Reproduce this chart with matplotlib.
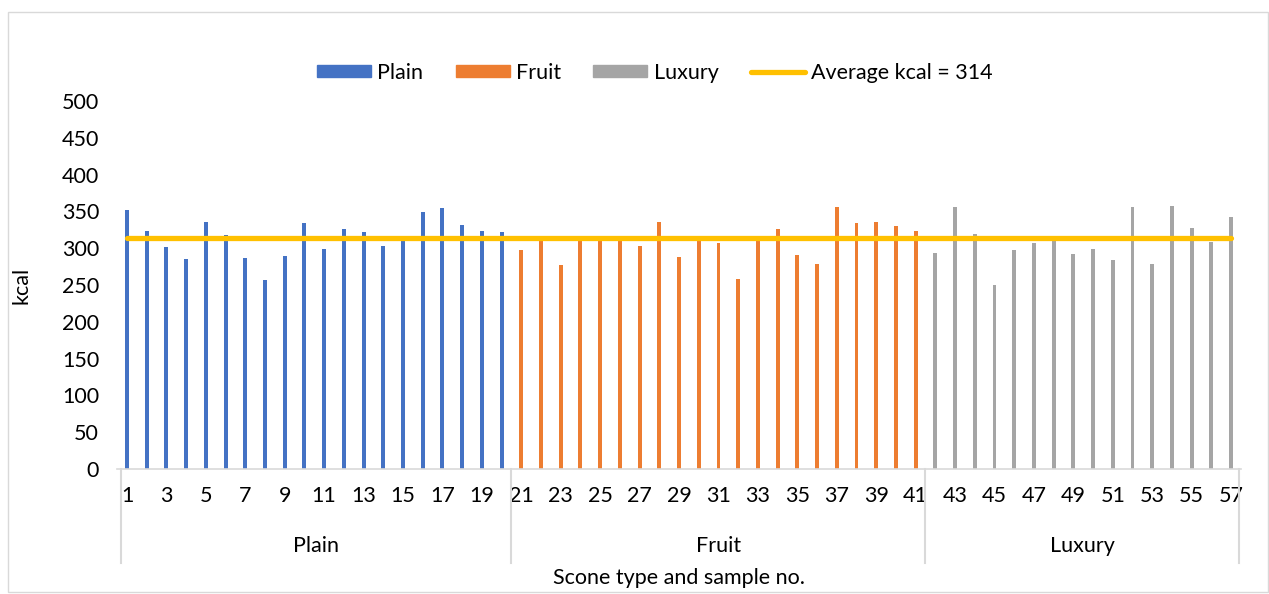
import matplotlib.pyplot as plt
from matplotlib.patches import Patch, Rectangle
from matplotlib.lines import Line2D
import matplotlib.transforms as mtransforms

plt.rcParams['font.family'] = ['Lato', 'DejaVu Sans']

groups = ["Plain", "Fruit", "Luxury"]
colors = ["#4472C4", "#ED7D31", "#A5A5A5"]

plain = [352, 323, 301, 285, 335, 318, 287, 257, 289, 334,
         299, 326, 322, 303, 310, 349, 355, 332, 324, 322]
fruit = [298, 312, 277, 312, 313, 314, 303, 335, 288, 312, 307,
         258, 312, 326, 291, 278, 356, 334, 336, 330, 323]
luxury = [293, 356, 319, 250, 298, 307, 310, 292, 299, 284, 356,
          278, 358, 327, 308, 342]
average = 314

series = [plain, fruit, luxury]
sample_no = list(range(1, len(plain) + len(fruit) + len(luxury) + 1))

fs = 15.5
fig = plt.figure(figsize=(12.69, 5.94), dpi=100)
ax = fig.add_axes([0.0923, 0.2104, 0.8856, 0.6196])

start = 0
for vals, name, c in zip(series, groups, colors):
    xs = list(range(start, start + len(vals)))
    ax.bar(xs, vals, width=0.2, color=c, zorder=2)
    start += len(vals)

ax.plot(range(len(sample_no)), [average] * len(sample_no), color="#FFC000",
        lw=3.8, solid_capstyle="round", zorder=3)

ax.set_xlim(-0.5, len(sample_no) - 0.5)
ax.set_ylim(0, 500)
ax.set_yticks(range(0, 501, 50))
ax.tick_params(axis="y", length=0, pad=13, labelsize=fs)
ax.set_xticks(range(0, len(sample_no), 2))
ax.set_xticklabels([str(n) for n in sample_no[::2]])
ax.tick_params(axis="x", length=0, pad=12, labelsize=fs)
for s in ["top", "right", "left"]:
    ax.spines[s].set_visible(False)
ax.spines["bottom"].set_color("#D9D9D9")
ax.spines["bottom"].set_linewidth(1.2)

# group separators and labels
trans = mtransforms.blended_transform_factory(ax.transData, ax.transAxes)
edges = [-0.5]
for vals in series:
    edges.append(edges[-1] + len(vals))
edges[0] += 0.2
edges[-1] -= 0.1
for e in edges:
    ax.plot([e, e], [0, -0.255], transform=trans, color="#D9D9D9", lw=1.5,
            clip_on=False)
for i, g in enumerate(groups):
    ax.text((edges[i] + edges[i + 1]) / 2, -0.21, g, transform=trans,
            ha="center", va="center", fontsize=fs)

ax.set_ylabel("kcal", fontsize=fs, labelpad=22)
fig.text(0.5 * (0.0923 + 0.978), 1 - 578 / 594, "Scone type and sample no.",
         ha="center", va="center", fontsize=fs)

handles = [Patch(color=c) for c in colors]
handles.append(Line2D([], [], color="#FFC000", lw=3.8, solid_capstyle="round"))
labels = groups + [f"Average kcal = {average}"]
fig.legend(handles, labels, loc="center", bbox_to_anchor=(655 / 1269, 1 - 73 / 594),
           ncol=4, frameon=False, fontsize=fs, handlelength=2.5, handleheight=0.5,
           handletextpad=0.3, columnspacing=1.5)

fig.patches.append(Rectangle((8 / 1269, 2 / 594), 1260 / 1269, 580 / 594,
                             transform=fig.transFigure, fill=False,
                             edgecolor="#D9D9D9", lw=1))

fig.savefig("out.png", dpi=100)
